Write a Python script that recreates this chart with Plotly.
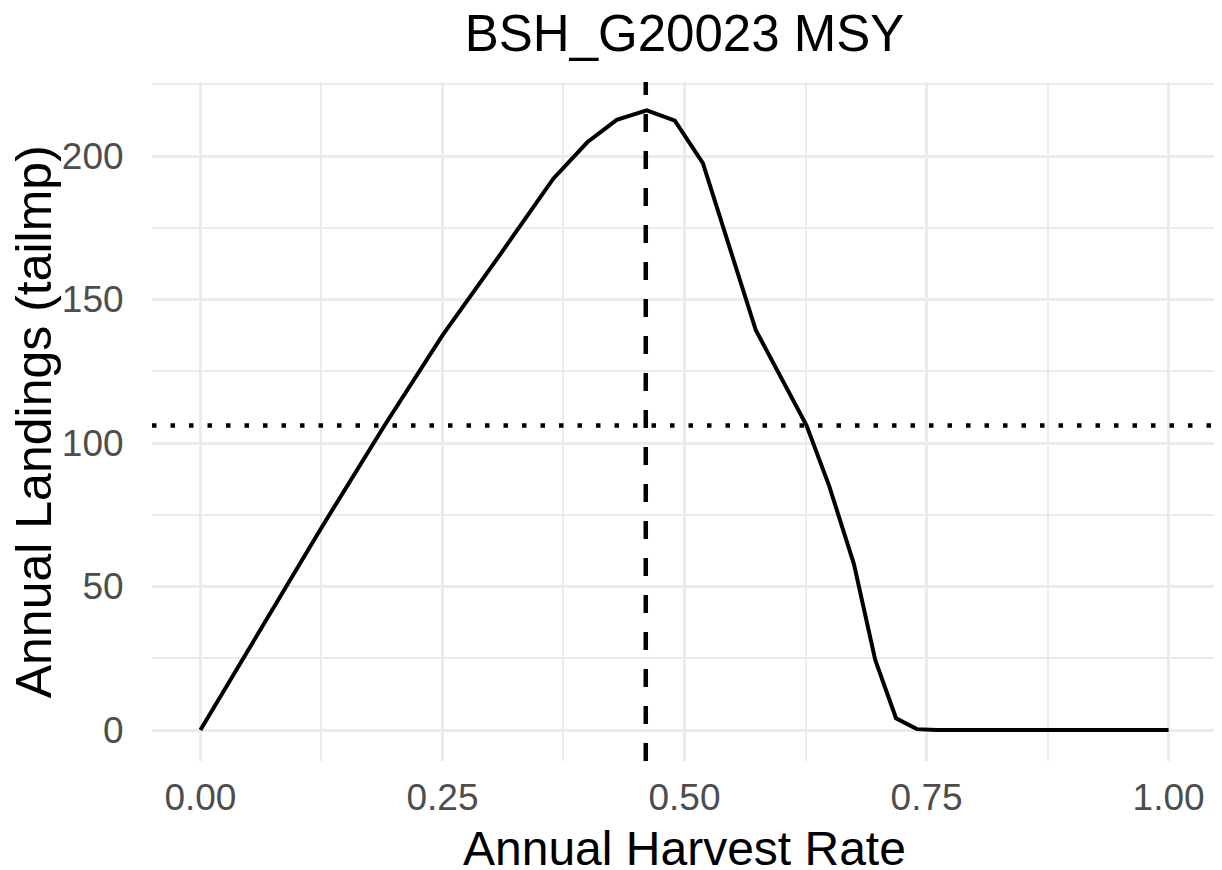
import plotly.graph_objects as go

# Data
harvest_rate = [0.0, 0.06, 0.125, 0.19, 0.25, 0.309, 0.3645, 0.3996, 0.43, 0.461,
                0.490, 0.519, 0.5737, 0.626, 0.6495, 0.675, 0.697, 0.7185, 0.740,
                0.76, 0.85, 1.0]
annual_landings = [0.0, 34.0, 70.5, 106.0, 137.5, 165.4, 192.1, 204.8, 212.6, 215.9,
                   212.3, 197.5, 139.3, 106.2, 85.0, 57.8, 24.4, 4.1, 0.3,
                   0.0, 0.0, 0.0]
msy_rate = 0.46
ref_landings = 106.1

x_ticks = [0.0, 0.25, 0.5, 0.75, 1.0]
x_tick_labels = ["0.00", "0.25", "0.50", "0.75", "1.00"]
y_ticks = [0, 50, 100, 150, 200]
y_tick_labels = ["0", "50", "100", "150", "200"]

FONT = "Liberation Sans, Arial, sans-serif"
GRID = "#ebebeb"

fig = go.Figure()
fig.add_trace(go.Scatter(
    x=harvest_rate, y=annual_landings, mode="lines",
    line=dict(color="black", width=4), showlegend=False, hoverinfo="x+y",
))

fig.add_hline(y=ref_landings, line=dict(color="black", width=4.5, dash="4.5px,14px"))
fig.add_vline(x=msy_rate, line=dict(color="black", width=4.5, dash="18px,19px"))

# the page body adds an 8px offset, so the figure is 8px smaller than the window
fig.update_layout(
    width=1214, height=862,
    paper_bgcolor="white", plot_bgcolor="white",
    margin=dict(l=144, r=5, t=74, b=109, autoexpand=False),
    font=dict(family=FONT, color="black"),
    title=dict(text="BSH_G20023 MSY", x=0.5, xanchor="center", y=0.971, yanchor="middle",
               xref="paper", font=dict(size=51, color="black", family=FONT)),
)

# axis titles placed as annotations so they sit exactly where the reference has them
fig.add_annotation(text="Annual Harvest Rate", xref="paper", yref="paper",
                   x=0.5, y=-0.129, xanchor="center", yanchor="middle", showarrow=False,
                   font=dict(size=48, color="black", family=FONT))
fig.add_annotation(text="Annual Landings (tailmp)", xref="paper", yref="paper",
                   x=-0.111, y=0.5, xanchor="center", yanchor="middle", showarrow=False,
                   textangle=-90, font=dict(size=50, color="black", family=FONT))

fig.update_xaxes(
    range=[-0.05, 1.05], automargin=False,
    tickvals=x_ticks, ticktext=x_tick_labels,
    tickfont=dict(size=37, color="#4d4d4d", family=FONT),
    showgrid=True, gridcolor=GRID, gridwidth=3,
    minor=dict(dtick=0.125, tick0=0.125, showgrid=True, gridcolor=GRID, gridwidth=1.6),
    zeroline=False, showline=False,
    ticks="outside", ticklen=4, tickcolor="rgba(0,0,0,0)",
)
fig.update_yaxes(
    range=[-10.8, 225.8], automargin=False,
    tickvals=y_ticks, ticktext=y_tick_labels,
    tickfont=dict(size=37, color="#4d4d4d", family=FONT),
    showgrid=True, gridcolor=GRID, gridwidth=3,
    minor=dict(dtick=25, tick0=25, showgrid=True, gridcolor=GRID, gridwidth=1.6),
    zeroline=False, showline=False,
    ticks="outside", ticklen=20, tickcolor="rgba(0,0,0,0)",
)

fig.write_html("out.html")
